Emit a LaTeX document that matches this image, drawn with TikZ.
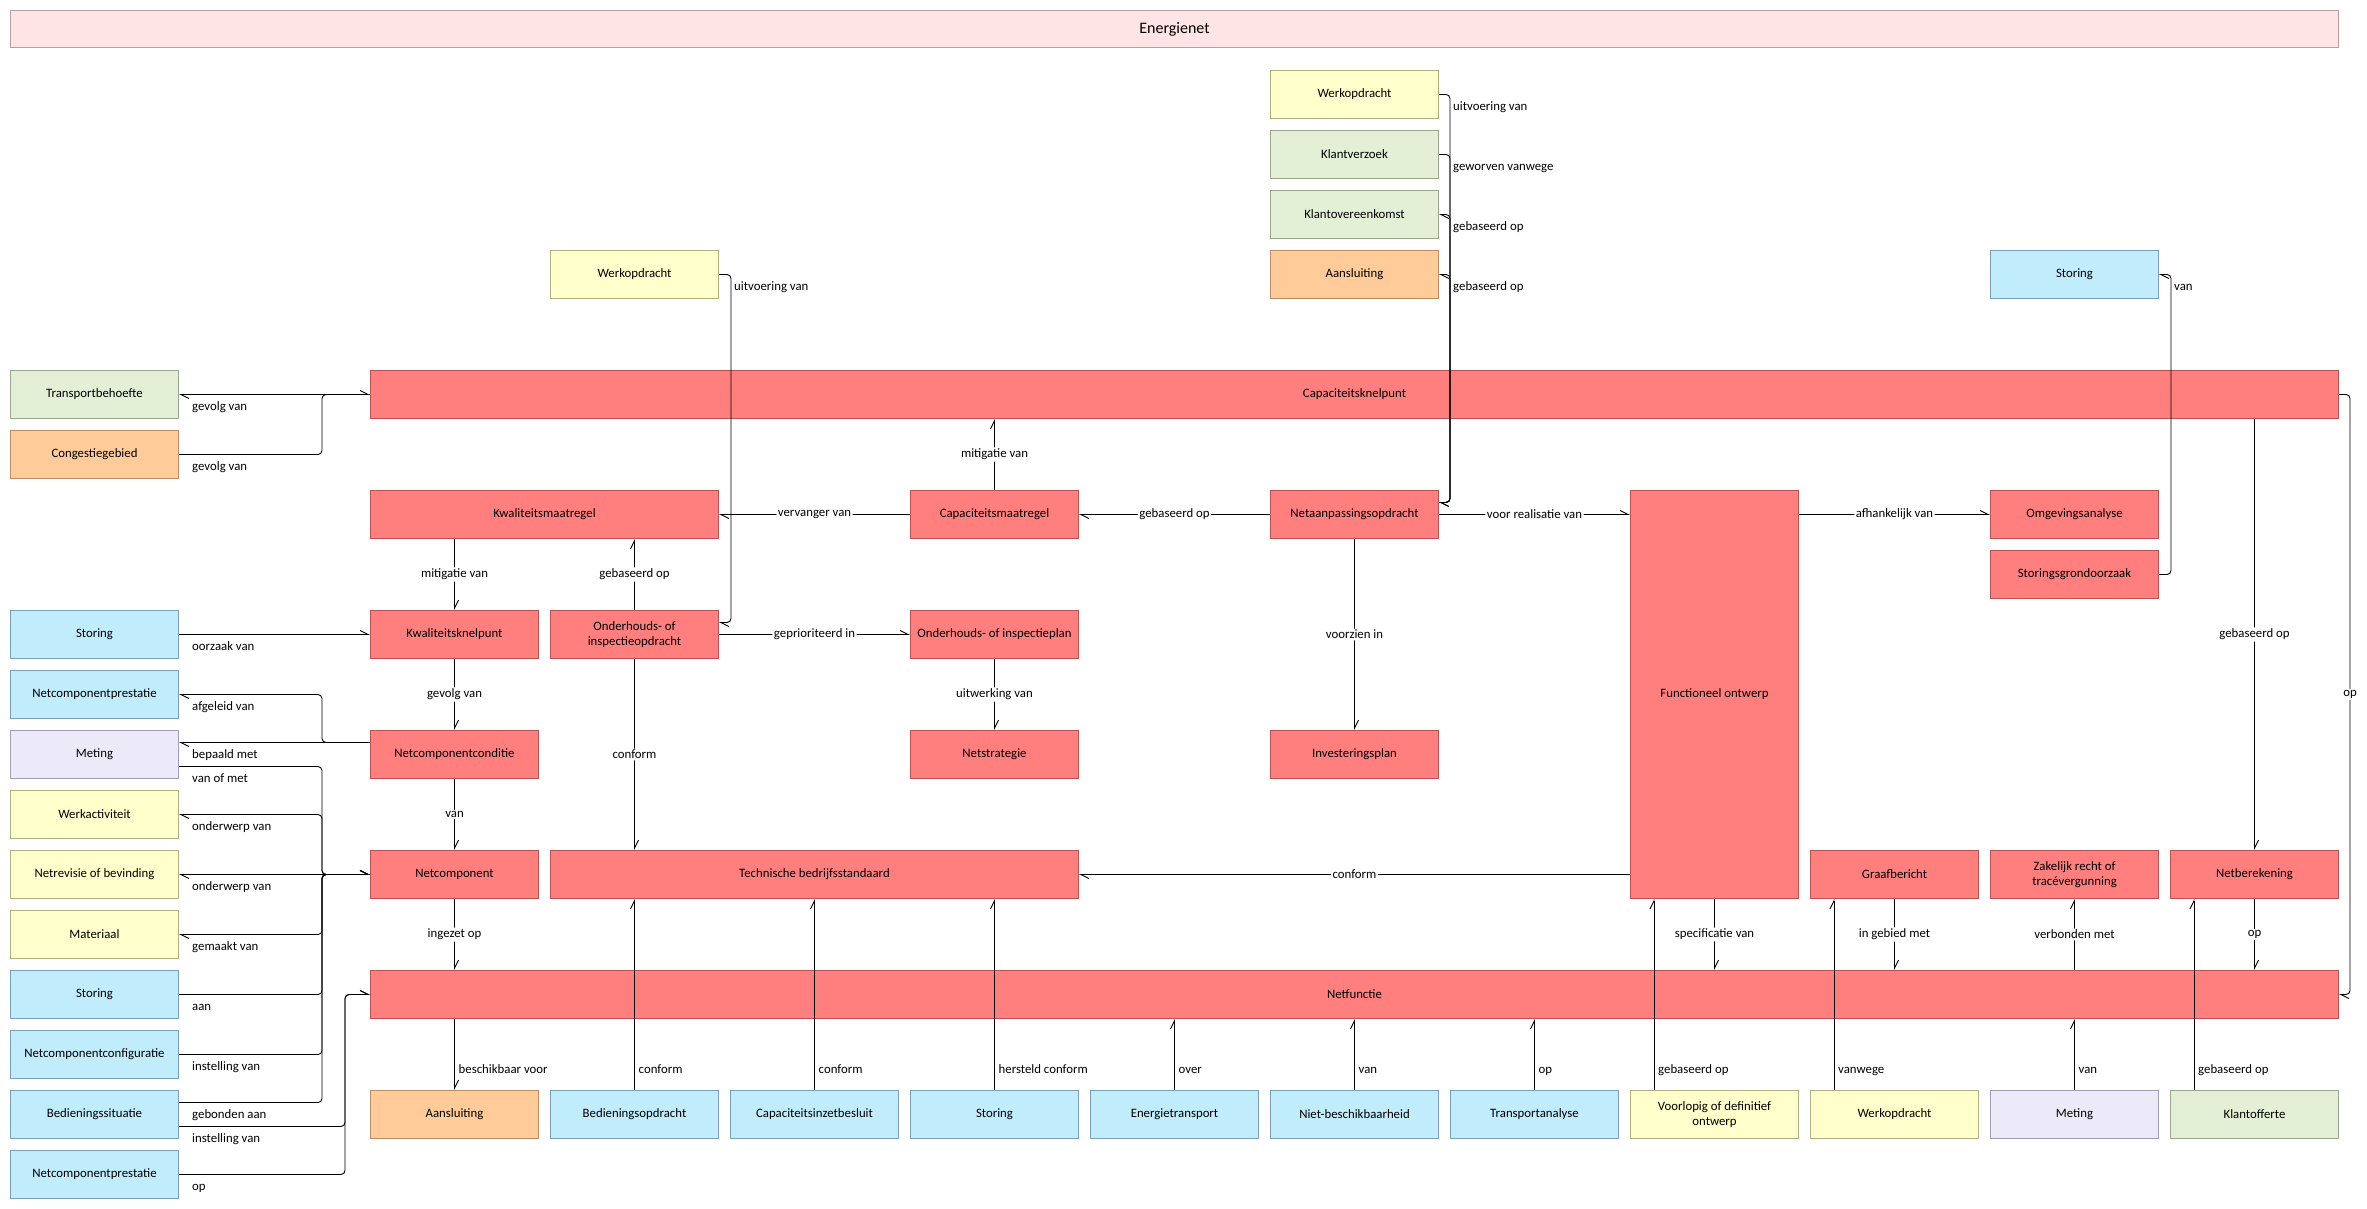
\documentclass[tikz,border=0pt]{standalone}
\usepackage{fontspec}
\setmainfont{Carlito}
\usetikzlibrary{arrows.meta,calc}
\definecolor{redF}{RGB}{255,127,127}
\definecolor{redD}{RGB}{186,82,82}
\definecolor{blueF}{RGB}{192,236,252}
\definecolor{blueD}{RGB}{122,160,188}
\definecolor{yelF}{RGB}{255,255,204}
\definecolor{yelD}{RGB}{176,176,128}
\definecolor{grnF}{RGB}{227,240,214}
\definecolor{grnD}{RGB}{156,166,140}
\definecolor{orgF}{RGB}{255,204,153}
\definecolor{orgD}{RGB}{190,140,100}
\definecolor{lavF}{RGB}{236,234,248}
\definecolor{lavD}{RGB}{160,158,180}
\definecolor{titF}{RGB}{255,228,230}
\definecolor{titD}{RGB}{180,160,164}
\newcommand\lblfont{\fontsize{12.8}{15}\selectfont}
\begin{document}
\begin{tikzpicture}[x=1pt,y=-1pt,
  box/.style={draw,line width=1pt,anchor=north west,minimum width=168pt,minimum height=48pt,inner sep=2pt,align=center,font=\lblfont},
  rbox/.style={box,fill=redF,draw=redD},
  bbox/.style={box,fill=blueF,draw=blueD},
  ybox/.style={box,fill=yelF,draw=yelD},
  gbox/.style={box,fill=grnF,draw=grnD},
  obox/.style={box,fill=orgF,draw=orgD},
  lbox/.style={box,fill=lavF,draw=lavD},
  tbox/.style={box,fill=titF,draw=titD,minimum width=2328pt,minimum height=37pt,font=\fontsize{16}{18}\selectfont},
  conn/.style={draw,line width=0.9pt,rounded corners=4pt,-{Straight Barb[left,length=8pt,width=8pt]}},
  mlab/.style={fill=white,inner sep=1.5pt,font=\lblfont},
  slab/.style={anchor=base west,inner sep=0pt,font=\lblfont}
]
\useasboundingbox[fill=white] (0,0) rectangle (2367,1209);

% title
\node[tbox] (title) at (10,10) {Energienet};

% top column
\node[ybox] (woA) at (1270,70) {Werkopdracht};
\node[gbox] (kv) at (1270,130) {Klantverzoek};
\node[gbox] (kov) at (1270,190) {Klantovereenkomst};
\node[obox] (aanA) at (1270,250) {Aansluiting};
\node[ybox] (woB) at (550,250) {Werkopdracht};
\node[bbox] (stA) at (1990,250) {Storing};

% left column
\node[gbox] (tb) at (10,370) {Transportbehoefte};
\node[obox] (cg) at (10,430) {Congestiegebied};
\node[bbox] (stB) at (10,610) {Storing};
\node[bbox] (ncpA) at (10,670) {Netcomponentprestatie};
\node[lbox] (metA) at (10,730) {Meting};
\node[ybox] (wa) at (10,790) {Werkactiviteit};
\node[ybox] (nr) at (10,850) {Netrevisie of bevinding};
\node[ybox] (mat) at (10,910) {Materiaal};
\node[bbox] (stC) at (10,970) {Storing};
\node[bbox] (ncfg) at (10,1030) {Netcomponentconfiguratie};
\node[bbox] (bs) at (10,1090) {Bedieningssituatie};
\node[bbox] (ncpB) at (10,1150) {Netcomponentprestatie};

% red core
\node[rbox,minimum width=1968pt] (ck) at (370,370) {Capaciteitsknelpunt};
\node[rbox,minimum width=348pt] (kwm) at (370,490) {Kwaliteitsmaatregel};
\node[rbox] (cm) at (910,490) {Capaciteitsmaatregel};
\node[rbox] (nao) at (1270,490) {Netaanpassingsopdracht};
\node[rbox,minimum height=408pt] (fo) at (1630,490) {Functioneel ontwerp};
\node[rbox] (oa) at (1990,490) {Omgevingsanalyse};
\node[rbox] (sgo) at (1990,550) {Storingsgrondoorzaak};
\node[rbox] (kwk) at (370,610) {Kwaliteitsknelpunt};
\node[rbox] (oio) at (550,610) {Onderhouds- of\\inspectieopdracht};
\node[rbox] (oip) at (910,610) {Onderhouds- of inspectieplan};
\node[rbox] (ncc) at (370,730) {Netcomponentconditie};
\node[rbox] (ns) at (910,730) {Netstrategie};
\node[rbox] (ip) at (1270,730) {Investeringsplan};
\node[rbox] (nc) at (370,850) {Netcomponent};
\node[rbox,minimum width=528pt] (tbs) at (550,850) {Technische bedrijfsstandaard};
\node[rbox] (gb) at (1810,850) {Graafbericht};
\node[rbox] (zr) at (1990,850) {Zakelijk recht of\\tracévergunning};
\node[rbox] (nb) at (2170,850) {Netberekening};
\node[rbox,minimum width=1968pt] (nf) at (370,970) {Netfunctie};

% bottom row
\node[obox] (aanB) at (370,1090) {Aansluiting};
\node[bbox] (bo) at (550,1090) {Bedieningsopdracht};
\node[bbox] (cib) at (730,1090) {Capaciteitsinzetbesluit};
\node[bbox] (stD) at (910,1090) {Storing};
\node[bbox] (et) at (1090,1090) {Energietransport};
\node[bbox] (nbh) at (1270,1090) {Niet-beschikbaarheid};
\node[bbox] (ta) at (1450,1090) {Transportanalyse};
\node[ybox] (vo) at (1630,1090) {Voorlopig of definitief\\ontwerp};
\node[ybox] (woC) at (1810,1090) {Werkopdracht};
\node[lbox] (metB) at (1990,1090) {Meting};
\node[gbox] (kof) at (2170,1090) {Klantofferte};

% bend coordinates
\coordinate (busA) at (322,0);
\coordinate (busB) at (345,0);
\coordinate (busC) at (1450,0);
\coordinate (busD) at (731,0);
\coordinate (busE) at (2171,0);
\coordinate (busF) at (2350,0);

% left column connectors
\draw[conn] (ck.west) -- (tb.east);
\draw[conn] (cg.east) -| (busA |- ck.west) -- (ck.west);
\draw[conn] (stB.east) -- (kwk.west);
\draw[conn] ([yshift=12pt]ncc.west) -| (busA |- ncpA.east) -- (ncpA.east);
\draw[conn] ([yshift=12pt]ncc.west) -- ([yshift=12pt]metA.east);
\draw[conn] ([yshift=-12pt]metA.east) -| (busA |- nc.west) -- (nc.west);
\draw[conn] (nc.west) -| (busA |- wa.east) -- (wa.east);
\draw[conn] (nc.west) -- (nr.east);
\draw[conn] (nc.west) -| (busA |- mat.east) -- (mat.east);
\draw[conn] (stC.east) -| (busA |- nc.west) -- (nc.west);
\draw[conn] (ncfg.east) -| (busA |- nc.west) -- (nc.west);
\draw[conn] ([yshift=12pt]bs.east) -| (busA |- nc.west) -- (nc.west);
\draw[conn] ([yshift=-12pt]bs.east) -| (busB |- nf.west) -- (nf.west);
\draw[conn] (ncpB.east) -| (busB |- nf.west) -- (nf.west);

\node[slab] (l1) at ([shift={(13,16)}]tb.east) {gevolg van};
\node[slab] (l2) at ([shift={(13,16)}]cg.east) {gevolg van};
\node[slab] (l3) at ([shift={(13,16)}]stB.east) {oorzaak van};
\node[slab] (l4) at ([shift={(13,16)}]ncpA.east) {afgeleid van};
\node[slab] (l5) at ([shift={(13,4)}]metA.east) {bepaald met};
\node[slab] (l6) at ([shift={(13,28)}]metA.east) {van of met};
\node[slab] (l7) at ([shift={(13,16)}]wa.east) {onderwerp van};
\node[slab] (l8) at ([shift={(13,16)}]nr.east) {onderwerp van};
\node[slab] (l9) at ([shift={(13,16)}]mat.east) {gemaakt van};
\node[slab] (l10) at ([shift={(13,16)}]stC.east) {aan};
\node[slab] (l11) at ([shift={(13,16)}]ncfg.east) {instelling van};
\node[slab] (l12) at ([shift={(13,4)}]bs.east) {gebonden aan};
\node[slab] (l13) at ([shift={(13,28)}]bs.east) {instelling van};
\node[slab] (l14) at ([shift={(13,16)}]ncpB.east) {op};

% top connectors
\draw[conn] (woA.east) -- (busC |- woA.east) |- ([yshift=12pt]nao.east);
\draw[conn] (kv.east) -- (busC |- kv.east) |- ([yshift=12pt]nao.east);
\draw[conn] ([yshift=12pt]nao.east) -| (busC |- kov.east) -- (kov.east);
\draw[conn] ([yshift=12pt]nao.east) -| (busC |- aanA.east) -- (aanA.east);
\draw[conn] (woB.east) -- (busD |- woB.east) |- ([yshift=12pt]oio.east);
\draw[conn] (sgo.east) -- (busE |- sgo.east) |- (stA.east);
\draw[conn] (ck.east) -- (busF |- ck.east) |- (nf.east);
\node[mlab] (l15) at (busF |- fo.west) {op};

\node[slab] (l16) at ([shift={(14,16)}]woA.east) {uitvoering van};
\node[slab] (l17) at ([shift={(14,16)}]kv.east) {geworven vanwege};
\node[slab] (l18) at ([shift={(14,16)}]kov.east) {gebaseerd op};
\node[slab] (l19) at ([shift={(14,16)}]aanA.east) {gebaseerd op};
\node[slab] (l20) at ([shift={(15,16)}]woB.east) {uitvoering van};
\node[slab] (l21) at ([shift={(15,16)}]stA.east) {van};

% middle connectors
\draw[conn] (cm.north) -- (cm.north |- ck.south) node[mlab,midway] {mitigatie van};
\draw[conn] (cm.west) -- (kwm.east) node[mlab,midway] {vervanger van};
\draw[conn] (nao.west) -- (cm.east) node[mlab,midway] {gebaseerd op};
\draw[conn] (nao.east) -- (fo.west |- nao.east) node[mlab,midway] {voor realisatie van};
\draw[conn] (nao.south) -- (ip.north) node[mlab,midway] {voorzien in};
\draw[conn] (fo.east |- oa.west) -- (oa.west) node[mlab,midway] {afhankelijk van};
\draw[conn] (nb.north |- ck.south) -- (nb.north) node[mlab,midway] {gebaseerd op};
\draw[conn] (kwk.north |- kwm.south) -- (kwk.north) node[mlab,midway] {mitigatie van};
\draw[conn] (oio.north) -- (oio.north |- kwm.south) node[mlab,midway] {gebaseerd op};
\draw[conn] (kwk.south) -- (ncc.north) node[mlab,midway] {gevolg van};
\draw[conn] (ncc.south) -- (nc.north) node[mlab,midway] {van};
\draw[conn] (oio.south) -- (oio.south |- tbs.north) node[mlab,midway] {conform};
\draw[conn] (oio.east) -- (oip.west) node[mlab,midway] {geprioriteerd in};
\draw[conn] (oip.south) -- (ns.north) node[mlab,midway] {uitwerking van};
\draw[conn] (fo.west |- tbs.east) -- (tbs.east) node[mlab,midway] {conform};
\draw[conn] (nc.south) -- (nc.south |- nf.north) node[mlab,midway] {ingezet op};
\draw[conn] (fo.south) -- (fo.south |- nf.north) node[mlab,midway] {specificatie van};
\draw[conn] (gb.south) -- (gb.south |- nf.north) node[mlab,midway] {in gebied met};
\draw[conn] (zr.south |- nf.north) -- (zr.south) node[mlab,midway] {verbonden met};
\draw[conn] (nb.south) -- (nb.south |- nf.north) node[mlab,midway] {op};

% bottom connectors
\draw[conn] (aanB.north |- nf.south) -- (aanB.north);
\draw[conn] (bo.north) -- (bo.north |- tbs.south);
\draw[conn] (cib.north) -- (cib.north |- tbs.south);
\draw[conn] (stD.north) -- (stD.north |- tbs.south);
\draw[conn] (et.north) -- (et.north |- nf.south);
\draw[conn] (nbh.north) -- (nbh.north |- nf.south);
\draw[conn] (ta.north) -- (ta.north |- nf.south);
\draw[conn] ([xshift=24pt]vo.north west) -- ([xshift=24pt]fo.south west);
\draw[conn] ([xshift=24pt]woC.north west) -- ([xshift=24pt]gb.south west);
\draw[conn] (metB.north) -- (metB.north |- nf.south);
\draw[conn] ([xshift=24pt]kof.north west) -- ([xshift=24pt]nb.south west);

\node[slab] (b1) at ([shift={(4,-17)}]aanB.north) {beschikbaar voor};
\node[slab] (b2) at ([shift={(4,-17)}]bo.north) {conform};
\node[slab] (b3) at ([shift={(4,-17)}]cib.north) {conform};
\node[slab] (b4) at ([shift={(4,-17)}]stD.north) {hersteld conform};
\node[slab] (b5) at ([shift={(4,-17)}]et.north) {over};
\node[slab] (b6) at ([shift={(4,-17)}]nbh.north) {van};
\node[slab] (b7) at ([shift={(4,-17)}]ta.north) {op};
\node[slab] (b8) at ([shift={(28,-17)}]vo.north west) {gebaseerd op};
\node[slab] (b9) at ([shift={(28,-17)}]woC.north west) {vanwege};
\node[slab] (b10) at ([shift={(4,-17)}]metB.north) {van};
\node[slab] (b11) at ([shift={(28,-17)}]kof.north west) {gebaseerd op};
\end{tikzpicture}
\end{document}
